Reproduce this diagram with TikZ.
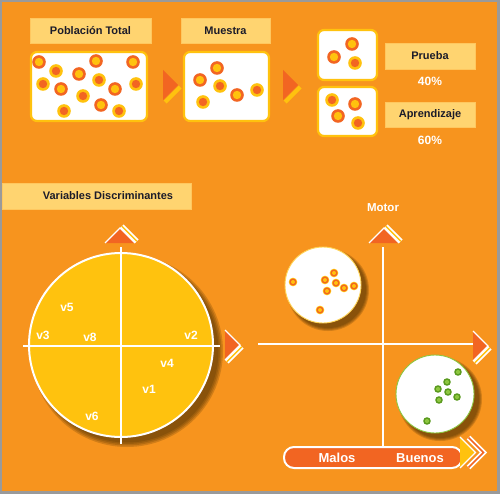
\documentclass[tikz,border=0pt]{standalone}
\usepackage{fontspec}
\setmainfont{Liberation Sans}
\definecolor{bg}{HTML}{F7941E}
\definecolor{rr}{HTML}{F26522}
\definecolor{yy}{HTML}{FFC20E}
\definecolor{labc}{HTML}{FFD470}
\definecolor{framec}{HTML}{9A9A9A}
\definecolor{txt}{HTML}{1C1C2A}
\definecolor{shc}{HTML}{4A2C00}
\definecolor{gd}{HTML}{5A9A1E}
\definecolor{gl}{HTML}{8DC63F}
\begin{document}
\begin{tikzpicture}[x=1pt,y=-1pt,
  lab/.style={fill=labc, draw=labc!85!orange, line width=0.5pt, inner sep=0pt, text=txt,
    font=\bfseries\fontsize{11}{13}\selectfont},
  wbox/.style={fill=white, draw=yy, line width=2.2pt, rounded corners=6pt, inner sep=0pt},
  wtxt/.style={text=white, inner sep=0pt, font=\bfseries\fontsize{12}{14}\selectfont},
  axisline/.style={draw=white, line width=2pt},
  dota/.pic={\fill[rr] (0,0) circle (6.8pt); \fill[yy] (0,0) circle (4.2pt);},
  dotb/.pic={\fill[yy] (0,0) circle (6.8pt); \fill[rr] (0,0) circle (4.2pt);},
  odot/.pic={\fill[yy] (0,0) circle (4.3pt); \fill[rr] (0,0) circle (3.5pt); \fill[yy] (0,0) circle (2pt);},
  gdot/.pic={\fill[gd] (0,0) circle (3.8pt); \fill[gl] (0,0) circle (2.1pt);},
  chev/.pic={
    \draw[white, line width=5pt] (1.8,1.8) -- (-13.2,16.8);
    \draw[yy, line width=1.5pt] (1.8,1.8) -- (-13.2,16.8);
    \fill[rr] (-15,-15) -- (0,0) -- (-15,15) -- cycle;
    \draw[white, line width=1.3pt, line join=miter] (-15,-15) -- (0,0) -- (-15,15);},
  tri/.pic={
    \draw[yy, line width=4pt] (2.1,2.1) -- (-12.9,17.1);
    \fill[rr] (-15,-15) -- (0,0) -- (-15,15) -- cycle;},
  ychev/.pic={
    \draw[white, line width=5pt, line join=miter] (-7,-15) -- (8,0) -- (-7,15);
    \draw[rr, line width=1.6pt, line join=miter] (-7,-15) -- (8,0) -- (-7,15);
    \fill[yy] (-15.5,-15.5) -- (0,0) -- (-15.5,15.5) -- cycle;
    \draw[white, line width=1.3pt, line join=miter] (-15.5,-15.5) -- (0,0) -- (-15.5,15.5);}
]
\useasboundingbox (0,0) rectangle (500,494);
\fill[framec] (0,0) rectangle (500,494);
\fill[bg] (2,2) rectangle (497,491);

% ---- top row ----
\node[lab, minimum width=121pt, minimum height=25pt] (pop) at (90.5,30.5) {Población Total};
\node[lab, minimum width=89pt, minimum height=25pt] (mue) at (225.5,30.5) {Muestra};
\node[lab, minimum width=90pt, minimum height=26pt] (pru) at (430,56) {Prueba};
\node[lab, minimum width=90pt, minimum height=25pt] (apr) at (430,114.5) {Aprendizaje};
\node[wtxt] (p40) at (430,81) {40\%};
\node[wtxt] (p60) at (430,140) {60\%};

\node[wbox, minimum width=116pt, minimum height=69pt] (popbox) at (89,86.5) {};
\node[wbox, minimum width=85pt, minimum height=69pt] (muebox) at (226.5,86.5) {};
\node[wbox, minimum width=59pt, minimum height=50pt] (prubox) at (347.5,55) {};
\node[wbox, minimum width=59pt, minimum height=49pt] (aprbox) at (347.5,111.5) {};

\foreach \p in {(39,62),(61,89),(79,74),(96,61),(115,89),(133,62),(101,105)} \pic at \p {dota};
\foreach \p in {(56,71),(43,84),(99,80),(83,96),(136,84),(64,111),(119,111)} \pic at \p {dotb};
\foreach \p in {(200,80),(217,68),(237,95)} \pic at \p {dota};
\foreach \p in {(220,86),(203,102),(257,90)} \pic at \p {dotb};
\foreach \p in {(334,57),(352,44)} \pic at \p {dota};
\pic at (355,63) {dotb};
\foreach \p in {(355,104),(338,116)} \pic at \p {dota};
\foreach \p in {(332,100),(358,123)} \pic at \p {dotb};

\pic at (178,85) {tri};
\pic at (298,85) {tri};

% ---- left panel ----
\node[lab, minimum width=189pt, minimum height=26pt] (varbox) at (96.5,196) {};
\node[text=txt, inner sep=0pt, font=\bfseries\fontsize{11}{13}\selectfont] (vart) at (108,196) {Variables Discriminantes};

\foreach \r in {96,94.5,93,91.5} \fill[shc, opacity=0.22] (127,351) circle (\r pt);
\node[circle, fill=yy, draw=white, line width=2pt, minimum size=184pt, inner sep=0pt] (pca) at (121,345) {};
\coordinate (vt) at (121,247);
\coordinate (vb) at (121,444);
\coordinate (hl) at (23,346);
\coordinate (hr) at (220,346);
\draw[axisline] (vt) -- (vb);
\draw[axisline] (hl) -- (hr);
\pic[rotate=90] at (120,228) {chev};
\pic at (240,345) {chev};

\node[wtxt] (v5) at (67,307) {v5};
\node[wtxt] (v3) at (43,335) {v3};
\node[wtxt] (v8) at (90,337) {v8};
\node[wtxt] (v2) at (191,335) {v2};
\node[wtxt] (v4) at (167,363) {v4};
\node[wtxt] (v1) at (149,389) {v1};
\node[wtxt] (v6) at (92,416) {v6};

% ---- right panel ----
\node[wtxt, font=\bfseries\fontsize{11.5}{14}\selectfont] (motor) at (383,208) {Motor};
\coordinate (mt) at (383,247);
\coordinate (mb) at (383,446);
\coordinate (ml) at (258,344);
\coordinate (mr) at (475,344);
\draw[axisline] (mt) -- (mb);
\draw[axisline] (ml) -- (mr);
\pic[rotate=90] at (384,228) {chev};
\pic at (488,346) {chev};

\foreach \r in {41,40,39,38} \fill[shc, opacity=0.22] (328,290) circle (\r pt);
\node[circle, fill=white, draw=yy!70!white, line width=0.9pt, minimum size=76pt, inner sep=0pt] (sc1) at (323,285) {};
\foreach \p in {(293,282),(325,280),(334,273),(336,283),(344,288),(354,286),(327,291),(320,310)} \pic at \p {odot};

\foreach \r in {42,41,40,39} \fill[shc, opacity=0.22] (440,399) circle (\r pt);
\node[circle, fill=white, draw=gl, line width=0.9pt, minimum size=78pt, inner sep=0pt] (sc2) at (435,394) {};
\foreach \p in {(458,372),(447,382),(438,389),(448,392),(457,397),(439,400),(427,421)} \pic at \p {gdot};

\node[fill=rr, draw=white, line width=2pt, rounded corners=10pt, minimum width=178pt, minimum height=21pt, inner sep=0pt] (bar) at (373,457.5) {};
\pic at (475.5,452.5) {ychev};
\node[wtxt, font=\bfseries\fontsize{13}{15}\selectfont] (malos) at (337,458) {Malos};
\node[wtxt, font=\bfseries\fontsize{13}{15}\selectfont] (buenos) at (420,458) {Buenos};
\end{tikzpicture}
\end{document}
